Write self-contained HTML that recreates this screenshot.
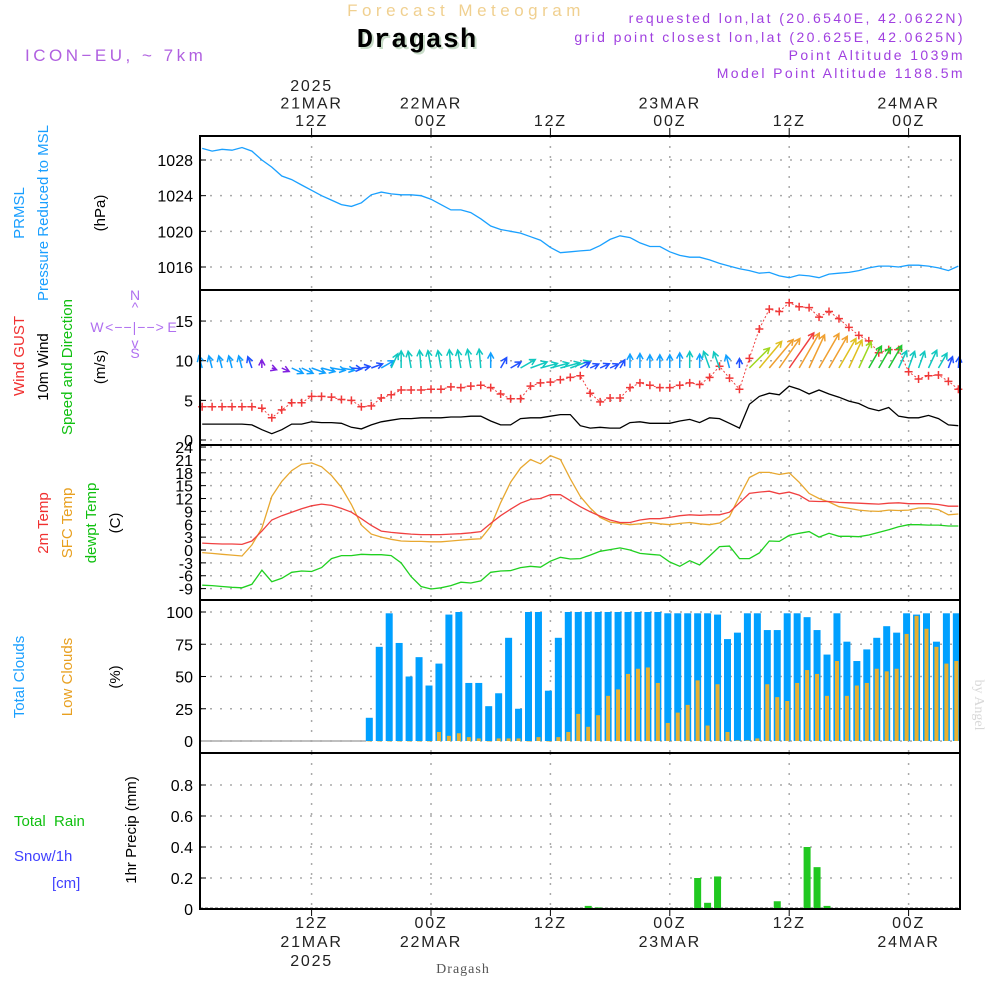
<!DOCTYPE html>
<html><head><meta charset="utf-8"><style>
body{margin:0;background:#fff}
svg{display:block;font-family:"Liberation Sans",sans-serif}
</style></head><body>
<svg id="chart" width="1000" height="1000" viewBox="0 0 1000 1000">
<g>
<text x="466" y="16" text-anchor="middle" font-size="17" fill="#f0d090" letter-spacing="4.5">Forecast Meteogram</text>
<text x="419" y="49" text-anchor="middle" font-size="27" font-weight="bold" font-family="Liberation Mono,monospace" fill="#c8dcc8" letter-spacing="1">Dragash</text>
<text x="417" y="47" text-anchor="middle" font-size="27" font-weight="bold" font-family="Liberation Mono,monospace" fill="#000" letter-spacing="1">Dragash</text>
<text x="25" y="61" font-size="17" fill="#b060e0" letter-spacing="3.5">ICON−EU, ~ 7km</text>
<g font-size="14" fill="#a040e0" text-anchor="end" letter-spacing="2.4">
<text x="965" y="23">requested lon,lat (20.6540E, 42.0622N)</text>
<text x="965" y="42">grid point closest lon,lat (20.625E, 42.0625N)</text>
<text x="965" y="60">Point Altitude 1039m</text>
<text x="965" y="78">Model Point Altitude 1188.5m</text>
</g>
</g>
<g font-size="15">
<text transform="translate(24,213) rotate(-90)" text-anchor="middle" fill="#1a9fff">PRMSL</text>
<text transform="translate(48,213) rotate(-90)" text-anchor="middle" fill="#1a9fff">Pressure Reduced to MSL</text>
<text transform="translate(105,213) rotate(-90)" text-anchor="middle" fill="#000">(hPa)</text>
<text transform="translate(24,356) rotate(-90)" text-anchor="middle" fill="#f03030">Wind GUST</text>
<text transform="translate(48,367) rotate(-90)" text-anchor="middle" fill="#000">10m Wind</text>
<text transform="translate(72,367) rotate(-90)" text-anchor="middle" fill="#10c010">Speed and Direction</text>
<text transform="translate(105,367) rotate(-90)" text-anchor="middle" fill="#000">(m/s)</text>
<g fill="#b070f0" font-size="14">
<text x="135" y="300" text-anchor="middle">N</text>
<text x="135" y="312" text-anchor="middle">^</text>
<text x="97" y="332" text-anchor="middle">W</text>
<text x="135" y="332" text-anchor="middle" letter-spacing="1">&lt;−−|−−&gt;</text>
<text x="172" y="332" text-anchor="middle">E</text>
<text x="135" y="348" text-anchor="middle">v</text>
<text x="135" y="358" text-anchor="middle">S</text>
</g>
<text transform="translate(48,523) rotate(-90)" text-anchor="middle" fill="#f03030">2m Temp</text>
<text transform="translate(72,523) rotate(-90)" text-anchor="middle" fill="#e8a020">SFC Temp</text>
<text transform="translate(96,523) rotate(-90)" text-anchor="middle" fill="#10c010">dewpt Temp</text>
<text transform="translate(120,523) rotate(-90)" text-anchor="middle" fill="#000">(C)</text>
<text transform="translate(24,677) rotate(-90)" text-anchor="middle" fill="#1a9fff">Total Clouds</text>
<text transform="translate(72,677) rotate(-90)" text-anchor="middle" fill="#e8a020">Low Clouds</text>
<text transform="translate(120,677) rotate(-90)" text-anchor="middle" fill="#000">(%)</text>
<text x="14" y="826" fill="#10c010">Total&#160;&#160;Rain</text>
<text x="14" y="861" fill="#4040ff">Snow/1h</text>
<text x="52" y="888" fill="#4040ff">[cm]</text>
<text transform="translate(136,830) rotate(-90)" text-anchor="middle" fill="#000">1hr Precip (mm)</text>
</g>
<text transform="translate(975,705) rotate(90)" text-anchor="middle" font-size="14" font-family="Liberation Serif,serif" fill="#d8d8d8">by Angel</text>
<text x="463" y="973" text-anchor="middle" font-size="14" font-family="Liberation Serif,serif" fill="#555" letter-spacing="1">Dragash</text>
<g id="plot"></g>
</svg>
<script>
// ===== data (hour index from 00Z 21MAR) =====
const hours = [];for(let h=1;h<=77;h++)hours.push(h);
const pressure=[1029.3,1029.0,1029.2,1029.1,1029.4,1029.0,1028.0,1027.2,1026.2,1025.8,1025.2,1024.6,1024.0,1023.5,1023.0,1022.8,1023.2,1024.1,1024.4,1024.2,1024.1,1024.1,1024.0,1023.6,1023.0,1022.4,1022.4,1022.1,1021.4,1020.6,1020.2,1020.0,1019.8,1019.4,1019.0,1018.2,1017.6,1017.7,1017.8,1017.9,1018.4,1019.1,1019.5,1019.3,1018.7,1018.3,1018.3,1017.7,1017.3,1017.1,1017.1,1016.8,1016.4,1016.1,1015.8,1015.6,1015.3,1015.4,1015.0,1014.8,1015.1,1015.0,1014.8,1015.2,1015.3,1015.4,1015.6,1015.9,1016.1,1016.1,1016.0,1016.2,1016.2,1016.1,1015.9,1015.6,1016.1];
const windSpeed=[2.0,2.0,2.0,2.0,2.0,1.9,1.3,0.8,1.3,2.0,2.0,2.3,2.2,2.2,2.1,1.6,1.4,1.9,2.3,2.5,2.7,2.7,2.8,2.8,2.8,2.9,2.9,3.0,3.0,2.4,1.9,1.9,2.7,2.8,2.8,3.0,3.2,3.2,1.8,1.5,1.6,1.5,1.5,2.2,2.3,2.1,2.1,2.1,2.4,2.6,2.2,2.8,2.7,2.1,1.5,4.5,5.5,5.9,5.7,6.8,6.4,5.8,6.3,5.8,5.4,4.9,4.6,4.0,3.7,4.1,3.0,2.8,2.8,3.1,2.7,1.9,1.8];
const windGust=[4.2,4.2,4.2,4.2,4.2,4.2,4.0,2.8,3.8,4.7,4.7,5.5,5.5,5.4,5.1,5.0,4.2,4.3,5.3,5.7,6.3,6.3,6.3,6.4,6.4,6.7,6.6,6.8,6.9,6.6,5.8,5.2,5.2,6.8,7.2,7.3,7.6,7.9,8.1,5.9,4.8,5.3,5.3,6.6,7.2,6.9,6.6,6.6,6.9,7.2,7.0,7.9,9.3,7.8,6.4,10.3,14.0,16.5,16.2,17.3,16.8,16.7,15.5,16.2,15.3,14.2,13.2,12.5,11.0,11.4,11.4,8.6,7.7,8.1,8.2,7.4,6.4];
const windDir=[-15,-15,-15,-15,-15,-20,0,110,115,115,115,110,105,100,100,95,80,70,60,25,0,-10,-5,-10,-10,-5,-10,-10,-5,0,30,60,60,70,75,75,75,70,60,65,65,65,30,0,0,0,0,0,0,0,0,-20,-20,-15,0,45,40,40,35,35,30,25,30,30,30,25,25,30,30,30,25,20,20,25,30,20,5];
const t2m=[1.6,1.5,1.4,1.4,1.3,2.1,4.4,7.0,8.0,8.8,9.6,10.3,10.7,10.4,9.7,8.8,7.3,5.7,4.4,4.1,3.9,3.7,3.6,3.6,3.6,3.7,3.8,4.0,4.3,6.2,8.0,9.5,10.9,11.8,12.0,12.9,12.9,11.5,10.1,8.9,7.9,7.0,6.4,6.4,7.0,7.3,7.3,7.6,8.0,8.2,8.1,8.2,8.2,8.8,11.0,13.2,13.5,13.7,13.1,13.5,12.8,11.4,11.3,11.3,11.1,11.0,10.9,10.8,10.7,10.9,11.0,10.8,10.8,10.8,10.6,10.2,10.2];
const tsfc=[-0.6,-0.8,-1.0,-1.2,-1.4,1.2,5.1,12.5,16.0,18.5,20.0,20.3,19.4,17.4,14.6,10.6,5.8,3.7,3.0,2.5,2.1,2.0,2.0,1.9,1.9,2.1,2.3,2.5,2.6,5.5,11.0,15.8,19.1,21.1,20.1,22.0,21.1,16.6,12.5,9.8,7.6,6.5,6.2,5.9,6.1,6.4,6.1,5.9,6.2,6.4,6.1,5.9,6.3,7.8,12.5,16.9,18.1,18.1,17.6,18.0,15.8,13.2,12.0,11.2,10.1,9.7,9.3,9.1,9.0,9.3,9.2,9.3,9.8,9.8,9.4,8.2,8.4];
const dewpt=[-8.2,-8.3,-8.5,-8.7,-8.8,-8.0,-4.7,-7.4,-6.6,-5.2,-4.9,-5.0,-4.1,-2.0,-1.3,-1.3,-1.0,-1.1,-1.1,-1.3,-3.0,-6.2,-8.5,-9.1,-8.8,-8.3,-7.5,-7.7,-7.2,-5.2,-4.9,-4.8,-4.1,-3.8,-4.0,-2.6,-1.7,-2.1,-2.0,-1.2,-0.3,0.1,0.5,0,-0.8,-1.0,-1.2,-2.8,-3.8,-2.5,-3.5,-1.4,0.8,0.9,-2.0,-2.0,-0.7,2.1,2.0,3.4,3.9,4.3,3.0,3.9,3.2,3.2,3.1,3.5,4.1,4.7,5.4,5.9,5.9,5.8,5.8,5.6,5.6];
const cloudHours=[];for(let h=18;h<=77;h++)cloudHours.push(h);
const totalClouds=[18,73,99,76,50,65,43,60,98,100,45,45,27,37,80,25,100,100,39,80,100,100,100,100,100,100,100,100,100,100,99,99,99,99,99,98,79,84,99,99,86,86,99,99,96,86,67,99,77,62,71,80,89,84,99,98,99,77,99,99];
const lowClouds=[0,0,0,0,0,0,0,7,4,6,3,2,0,2,2,2,0,3,0,3,7,21,11,20,35,40,52,56,57,45,14,22,28,47,12,44,7,0.5,0.5,2,44,34,31,45,55,52,35,62,35,43,45,56,54,56,83,97,87,73,60,62];
const precipHours=[40,41,51,52,53,59,62,63,64];
const precip=[0.02,0.01,0.2,0.04,0.21,0.05,0.4,0.27,0.02];
const timeTicks=[12,24,36,48,60,72];
const topLabels=[["2025","21MAR","12Z"],["22MAR","00Z"],["12Z"],["23MAR","00Z"],["12Z"],["24MAR","00Z"]];
const botLabels=[["12Z","21MAR","2025"],["00Z","22MAR"],["12Z"],["00Z","23MAR"],["12Z"],["00Z","24MAR"]];
const pTicks=[1016,1020,1024,1028];
const wTicks=[0,5,10,15];
const tTicks=[-9,-6,-3,0,3,6,9,12,15,18,21,24];
const cTicks=[0,25,50,75,100];
const rTicks=[0,0.2,0.4,0.6,0.8];

// ===== scales =====
const X0=200,X1=960;
const x=h=>431+(h-24)*9.95;
const panels=[
 {top:136,bot:290,y:v=>267-(v-1016)*8.917},
 {top:290,bot:445,y:v=>440-v*7.93},
 {top:445,bot:600,y:v=>550-v*4.29},
 {top:600,bot:753,y:v=>741-v*1.29},
 {top:753,bot:909,y:v=>909-v*155}
];
const NS='http://www.w3.org/2000/svg';
const plot=document.getElementById('plot');
function mk(tag,attrs,parent){const e=document.createElementNS(NS,tag);for(const k in attrs)e.setAttribute(k,attrs[k]);(parent||plot).appendChild(e);return e;}
const tickSets=[pTicks,wTicks,tTicks,cTicks,rTicks];
const tickFmt=[v=>String(v),v=>String(v),v=>String(v),v=>String(v),v=>v===0?"0":v.toFixed(1)];

panels.forEach((p,i)=>{
  const g=mk('g',{});
  
  
  tickSets[i].forEach(v=>{
    const yy=p.y(v);
    const gl=mk('line',{x1:X0,x2:X1,y1:yy,y2:yy,stroke:'#aaa','stroke-width':1.5,'stroke-dasharray':'2 8'},g);
    
    
    mk('line',{x1:X0,x2:X0+6,y1:yy,y2:yy,stroke:'#000','stroke-width':1},g);
    const t=mk('text',{x:193,y:yy+6,'text-anchor':'end','font-size':16,fill:'#000'},g);
    
    
    t.textContent=tickFmt[i](v);
  });
  timeTicks.forEach(h=>{
    const gl=mk('line',{x1:x(h),x2:x(h),y1:p.top,y2:p.bot,stroke:'#aaa','stroke-width':1.5,'stroke-dasharray':'2 8'},g);
    
    
  });
});

function line(arr,xs,yf,color,name,g,extra){
  const d=arr.map((v,i)=>(i?'L':'M')+x(xs[i]).toFixed(1)+','+yf(v).toFixed(1)).join('');
  const e=mk('path',Object.assign({d:d,fill:'none',stroke:color,'stroke-width':1.3},extra||{}),g);
  
  
  return e;
}
line(pressure,hours,panels[0].y,'#1aa0ff','pressure-line');
line(windSpeed,hours,panels[1].y,'#000','wind-speed-line');
line(windGust,hours,panels[1].y,'#f04040','gust-line',null,{'stroke-dasharray':'2 2','stroke-width':1});
windGust.forEach((v,i)=>{
  const cx=x(hours[i]),cy=panels[1].y(v);
  const m=mk('path',{d:`M${cx-4},${cy}H${cx+4}M${cx},${cy-4}V${cy+4}`,stroke:'#f03838','stroke-width':1.5});
  
  
});
function windColor(s){
  if(s<1.4)return '#8020e0';if(s<1.95)return '#2050ff';if(s<2.5)return '#10a0ff';if(s<3.3)return '#10c8c0';
  if(s<4.3)return '#20c830';if(s<4.8)return '#a0d820';if(s<5.6)return '#e0c020';if(s<6.5)return '#f0a030';return '#f04040';
}
windSpeed.forEach((s,i)=>{
  const bx=x(hours[i]),by=368,L=6.3*s,a=windDir[i]*Math.PI/180;
  const tx=bx+L*Math.sin(a),ty=by-L*Math.cos(a);
  const hl=6.5,ha=0.5;
  const p1x=tx-hl*Math.sin(a-ha),p1y=ty+hl*Math.cos(a-ha);
  const p2x=tx-hl*Math.sin(a+ha),p2y=ty+hl*Math.cos(a+ha);
  const c=windColor(s);
  const ar=mk('path',{d:`M${bx},${by}L${tx},${ty}M${p1x},${p1y}L${tx},${ty}L${p2x},${p2y}`,stroke:c,'stroke-width':1.5,fill:'none'});
  
  
});
line(tsfc,hours,panels[2].y,'#e8a830','sfc-temp-line');
line(t2m,hours,panels[2].y,'#f04040','t2m-line');
line(dewpt,hours,panels[2].y,'#20d020','dewpt-line');
const zl=mk('line',{x1:X0,x2:x(17.5),y1:741,y2:741,stroke:'#aaa','stroke-width':1.5});


totalClouds.forEach((v,i)=>{
  const cx=x(cloudHours[i])-2,y0=panels[3].y(0),yv=panels[3].y(v);
  const r=mk('rect',{x:cx-3.5,y:yv,width:7,height:Math.max(y0-yv,0.5),fill:'#00a0ff'});
  
  
});
lowClouds.forEach((v,i)=>{
  const cx=x(cloudHours[i])-2,y0=panels[3].y(0),yv=panels[3].y(v);
  const r=mk('rect',{x:cx-2,y:yv,width:4,height:Math.max(y0-yv,0.5),fill:'#e8b030'});
  
  
});
const pz=mk('line',{x1:X0,x2:X1,y1:908,y2:908,stroke:'#999','stroke-width':1.5,'stroke-dasharray':'3 2'});


precip.forEach((v,i)=>{
  const cx=x(precipHours[i])-2,y0=panels[4].y(0),yv=panels[4].y(v);
  const r=mk('rect',{x:cx-3.5,y:yv,width:7,height:y0-yv,fill:'#20c820'});
  
  
});
panels.forEach((p,i)=>{
  const f=mk('rect',{x:X0,y:p.top,width:X1-X0,height:p.bot-p.top,fill:'none',stroke:'#000','stroke-width':2});
  
  
});
timeTicks.forEach((h,i)=>{
  mk('line',{x1:x(h),x2:x(h),y1:128,y2:136,stroke:'#000'});
  mk('line',{x1:x(h),x2:x(h),y1:909,y2:916,stroke:'#000'});
  const tl=topLabels[i];
  tl.forEach((s,j)=>{
    const t=mk('text',{x:x(h),y:126-(tl.length-1-j)*17.5,'text-anchor':'middle','font-size':16,fill:'#222','letter-spacing':1.8});
    
    
    t.textContent=s;
  });
  botLabels[i].forEach((s,j)=>{
    const t=mk('text',{x:x(h),y:928+j*19,'text-anchor':'middle','font-size':16,fill:'#222','letter-spacing':1.8});
    
    
    t.textContent=s;
  });
});
</script>
</body></html>
